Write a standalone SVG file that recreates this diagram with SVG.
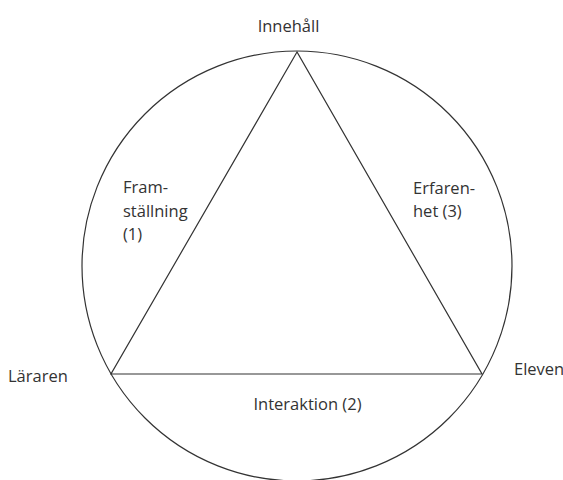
<svg xmlns="http://www.w3.org/2000/svg" width="563" height="480" viewBox="0 0 563 480">
<style>
text{font-family:"Open Sans","Noto Sans",sans-serif;font-size:16.5px;fill:#333}
.ln{fill:none;stroke:#333;stroke-width:1.2}
</style>
<rect width="563" height="480" fill="#fff"/>
<g id="connectors">
<circle class="ln" cx="297" cy="266" r="215"/>
<polygon class="ln" points="297,52 111,374 482,374"/>
</g>
<g id="innehall"><text x="288.5" y="32" text-anchor="middle">Innehåll</text></g>
<g id="lararen"><text x="8" y="382">Läraren</text></g>
<g id="eleven"><text x="514" y="375">Eleven</text></g>
<g id="framstallning"><text x="123" y="193">Fram-</text><text x="123" y="216.5">ställning</text><text x="123" y="239.5">(1)</text></g>
<g id="erfarenhet"><text x="413" y="193.5">Erfaren-</text><text x="413" y="217">het (3)</text></g>
<g id="interaktion"><text x="307.5" y="410" text-anchor="middle">Interaktion (2)</text></g>
</svg>
